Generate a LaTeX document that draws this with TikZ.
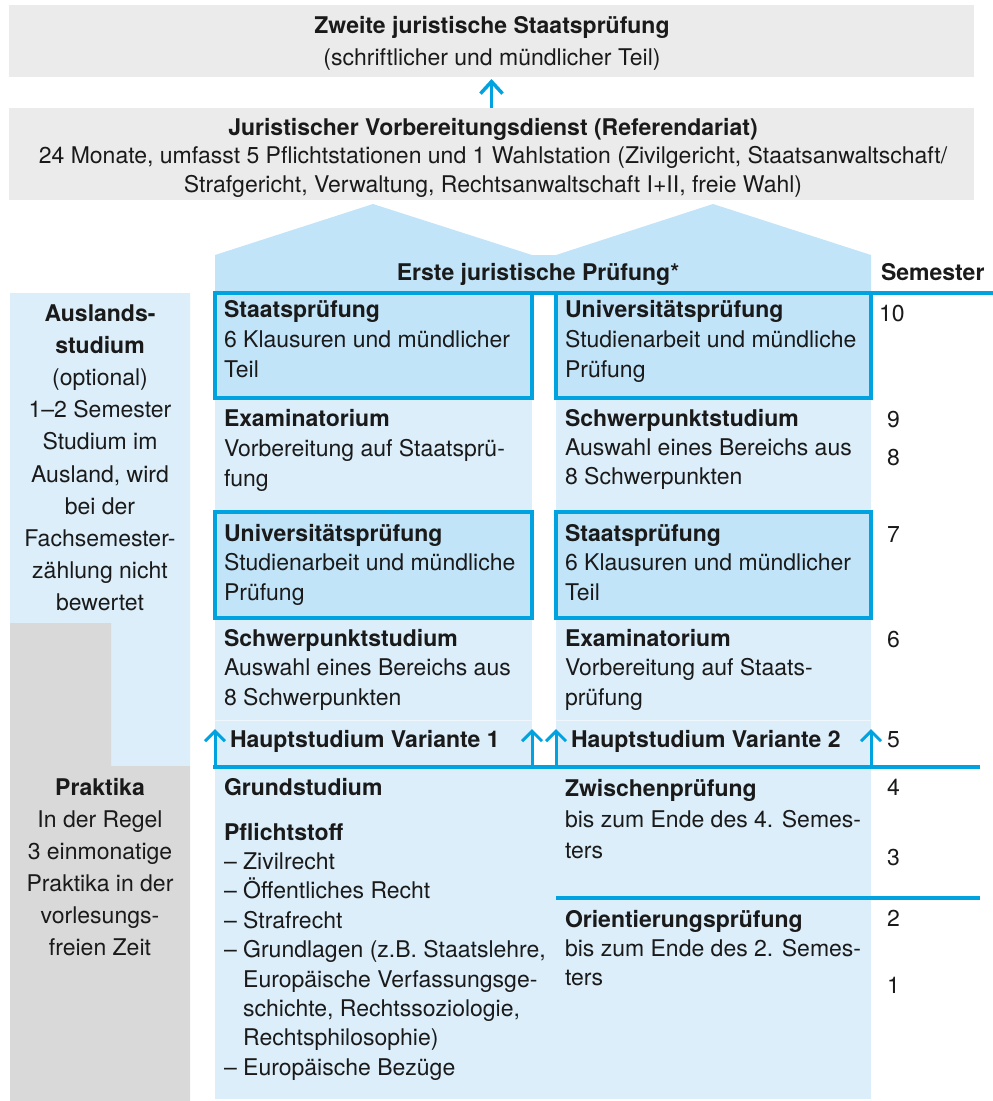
\documentclass[tikz,border=0pt]{standalone}
\usepackage{fontspec}
\setmainfont{TeX Gyre Heros}
\usetikzlibrary{arrows.meta}
\definecolor{cyanline}{HTML}{00A3E0}
\definecolor{lightblue}{HTML}{DBEEFA}
\definecolor{boxblue}{HTML}{C2E4F8}
\definecolor{graybg}{HTML}{EBEBEB}
\definecolor{praktgray}{HTML}{D9D9D9}
\definecolor{txtc}{HTML}{1A1A1A}
\newcommand\fst{\rule{0pt}{22pt}}
\newcommand\ind{\hphantom{– }}
\begin{document}
\begin{tikzpicture}[x=1pt,y=-1pt,
  every node/.style={inner sep=0pt, outer sep=0pt, text=txtc},
  lbl/.style={font=\fontsize{23}{#1}\selectfont, align=left, anchor=north west},
  lbl/.default=30,
  clbl/.style={font=\fontsize{23}{#1}\selectfont, align=center, anchor=north},
  clbl/.default=32,
  one/.style={font=\fontsize{23}{28}\selectfont, anchor=base west},
  num/.style={font=\fontsize{23}{28}\selectfont, anchor=base west},
  graybox/.style={fill=graybg, anchor=north west, minimum width=965, minimum height=#1},
  exambox/.style={draw=cyanline, fill=boxblue, line width=3.2pt, anchor=north west, minimum width=317, minimum height=#1},
  cline/.style={draw=cyanline, line width=3.2pt},
  arr/.style={draw=cyanline, line width=3pt, -{Straight Barb[length=10pt,width=20pt]}},
  bigarr/.style={draw=cyanline, line width=3.5pt, -{Straight Barb[length=12pt,width=22pt]}, shorten >=2pt},
]
\useasboundingbox (0,0) rectangle (993,1101);

% top boxes
\node[graybox=72] (zweite) at (9,5) {};
\node[graybox=92] (ref) at (9,108) {};
\node[clbl=32] (zweitetext) at (492,11) {\textbf{\fst Zweite juristische Staatsprüfung}\\(schriftlicher und mündlicher Teil)};
\node[clbl=28.5] (reftext) at (493,113) {\textbf{\fst Juristischer Vorbereitungsdienst (Referendariat)}\\24 Monate, umfasst 5 Pflichtstationen und 1 Wahlstation (Zivilgericht, Staatsanwaltschaft/\\Strafgericht, Verwaltung, Rechtsanwaltschaft I+II, freie Wahl)};
\draw[bigarr] (ref.north) -- (zweite.south);

% roof
\fill[boxblue] (215,293) -- (215,255) -- (373,204) -- (532,255) -- (556,255) -- (713,204) -- (871,255) -- (871,293) -- cycle;
\node[font=\fontsize{23}{28}\selectfont\bfseries, anchor=base] (erste) at (538,280) {Erste juristische Prüfung*};
\node[one, font=\fontsize{23}{28}\selectfont\bfseries] (semester) at (881,280) {Semester};

% left side column
\fill[lightblue] (10,293) -- (190,293) -- (190,766) -- (111,766) -- (111,623) -- (10,623) -- cycle;
\fill[praktgray] (10,623) -- (111,623) -- (111,766) -- (190,766) -- (190,1101) -- (10,1101) -- cycle;
\node[clbl=32.2] (ausland) at (100,299) {\textbf{\fst Auslands-}\\\textbf{studium}\\(optional)\\1–2 Semester\\Studium im\\Ausland, wird\\bei der\\Fachsemester-\\zählung nicht\\bewertet};
\node[clbl=32] (praktika) at (100,773) {\textbf{\fst Praktika}\\In der Regel\\3 einmonatige\\Praktika in der\\vorlesungs-\\freien Zeit};

% column backgrounds
\fill[lightblue] (215,293) rectangle (532,767);
\fill[lightblue] (556,293) rectangle (871,767);
\fill[lightblue] (215,767) rectangle (871,1099);
\draw[white!55!lightblue, line width=1pt] (215,720) -- (532,720) (556,720) -- (871,720);

% exam boxes
\node[exambox=105] (sp1) at (215,293) {};
\node[exambox=105, minimum width=315] (up1) at (556,293) {};
\node[exambox=106] (up2) at (215,512) {};
\node[exambox=106, minimum width=315] (sp2) at (556,512) {};

% horizontal lines
\draw[cline] (215,293) -- (993,293);
\draw[cline] (213.4,767) -- (980,767);
\draw[cline] (556,898) -- (980,898);

% arrows Hauptstudium
\coordinate (a1s) at (215,768.6); \coordinate (a1e) at (215,729);
\coordinate (a2s) at (532,767); \coordinate (a2e) at (532,729);
\coordinate (a3s) at (556,767); \coordinate (a3e) at (556,729);
\coordinate (a4s) at (871,767); \coordinate (a4e) at (871,729);
\draw[arr] (a1s) -- (a1e);
\draw[arr] (a2s) -- (a2e);
\draw[arr] (a3s) -- (a3e);
\draw[arr] (a4s) -- (a4e);

% left column texts
\node[lbl=30] (sp1text) at (224,295) {\textbf{\fst Staatsprüfung}\\6 Klausuren und mündlicher\\Teil};
\node[lbl=30] (ex1text) at (224,404) {\textbf{\fst Examinatorium}\\Vorbereitung auf Staatsprü-\\fung};
\node[lbl=29.5] (up2text) at (224,519) {\textbf{\fst Universitätsprüfung}\\Studienarbeit und mündliche\\Prüfung};
\node[lbl=29.5] (sw2text) at (224,624) {\textbf{\fst Schwerpunktstudium}\\Auswahl eines Bereichs aus\\8 Schwerpunkten};
\node[one, font=\fontsize{23}{28}\selectfont\bfseries] (hs1) at (230,747) {Hauptstudium Variante 1};
\node[one, font=\fontsize{23}{28}\selectfont\bfseries] (grund) at (224,795) {Grundstudium};
\node[lbl=29.4] (pflicht) at (224,818) {\textbf{\fst Pflichtstoff}\\– Zivilrecht\\– Öffentliches Recht\\– Strafrecht\\– Grundlagen (z.B. Staatslehre,\\\ind Europäische Verfassungsge-\\\ind schichte, Rechtssoziologie,\\\ind Rechtsphilosophie)\\– Europäische Bezüge};

% right column texts
\node[lbl=30] (up1text) at (565,295) {\textbf{\fst Universitätsprüfung}\\Studienarbeit und mündliche\\Prüfung};
\node[lbl=29] (sw1text) at (565,404) {\textbf{\fst Schwerpunktstudium}\\Auswahl eines Bereichs aus\\8 Schwerpunkten};
\node[lbl=29.5] (sp2text) at (565,519) {\textbf{\fst Staatsprüfung}\\6 Klausuren und mündlicher\\Teil};
\node[lbl=29.5] (ex2text) at (565,624) {\textbf{\fst Examinatorium}\\Vorbereitung auf Staats-\\prüfung};
\node[one, font=\fontsize{23}{28}\selectfont\bfseries] (hs2) at (571,747) {Hauptstudium Variante 2};
\node[lbl=31] (zwi) at (565,774) {\textbf{\fst Zwischenprüfung}\\bis zum Ende des 4. Semes-\\ters};
\node[lbl=29] (ori) at (565,905) {\textbf{\fst Orientierungsprüfung}\\bis zum Ende des 2. Semes-\\ters};

% semester numbers
\node[num] (s10) at (879,321) {10};
\node[num] (s9) at (887,427) {9};
\node[num] (s8) at (887,465) {8};
\node[num] (s7) at (887,542) {7};
\node[num] (s6) at (887,647) {6};
\node[num] (s5) at (887,747) {5};
\node[num] (s4) at (887,795) {4};
\node[num] (s3) at (887,865) {3};
\node[num] (s2) at (887,926) {2};
\node[num] (s1) at (887,993) {1};
\end{tikzpicture}
\end{document}
